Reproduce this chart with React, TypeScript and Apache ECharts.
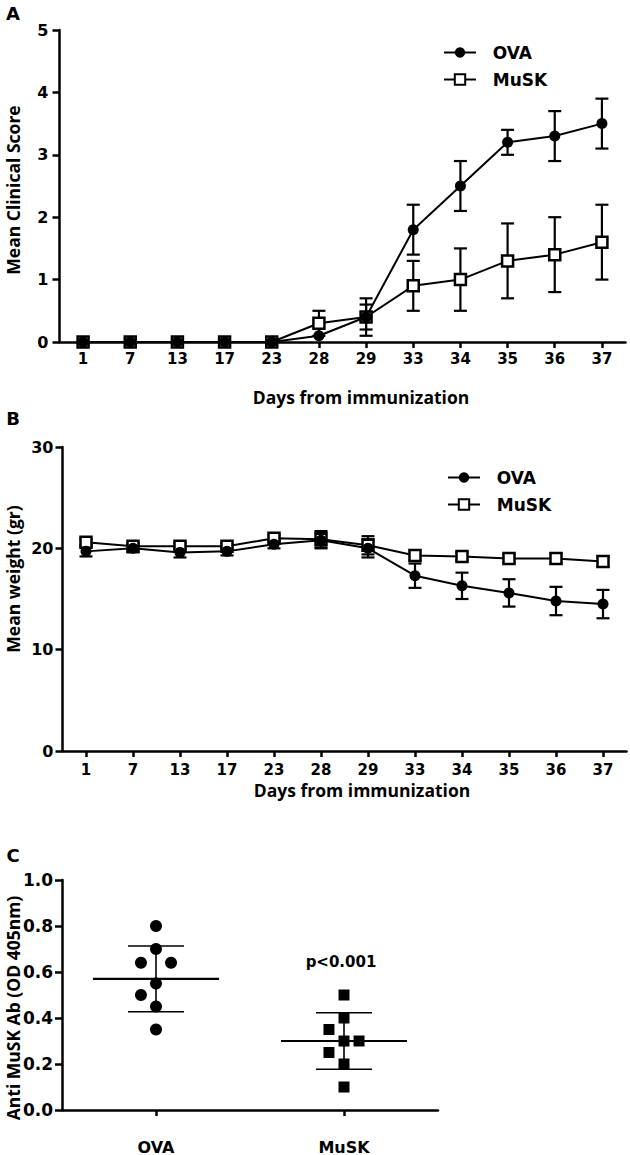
import React, { useEffect, useRef } from "react";
import * as echarts from "echarts";

// ---------- DATA ----------
const days = ["1", "7", "13", "17", "23", "28", "29", "33", "34", "35", "36", "37"];

// Panel A: mean clinical score (with error)
const ovaScore = [0, 0, 0, 0, 0, 0.1, 0.4, 1.8, 2.5, 3.2, 3.3, 3.5];
const ovaScoreErr = [0, 0, 0, 0, 0, 0, 0.2, 0.4, 0.4, 0.2, 0.4, 0.4];
const muskScore = [0, 0, 0, 0, 0, 0.3, 0.4, 0.9, 1.0, 1.3, 1.4, 1.6];
const muskScoreErr = [0, 0, 0, 0, 0, 0.2, 0.3, 0.4, 0.5, 0.6, 0.6, 0.6];

// Panel B: mean weight (gr)
const ovaWeight = [19.7, 20.0, 19.6, 19.7, 20.4, 20.8, 20.0, 17.3, 16.3, 15.6, 14.8, 14.5];
const ovaWeightErr = [0.5, 0.4, 0.5, 0.4, 0.4, 0.8, 0.9, 1.2, 1.3, 1.35, 1.4, 1.4];
const muskWeight = [20.6, 20.2, 20.2, 20.2, 21.0, 20.9, 20.3, 19.3, 19.2, 19.0, 19.0, 18.7];
const muskWeightErr = [0.3, 0.3, 0.3, 0.3, 0.3, 0.8, 0.9, 0.5, 0.4, 0.4, 0.5, 0.5];

// Panel C: anti-MuSK antibody (OD 405nm)
const groups = ["OVA", "MuSK"];
const ovaAb = [0.8, 0.7, 0.64, 0.64, 0.55, 0.5, 0.45, 0.35];
const ovaJitter = [0, 0, -1, 1, 0, -1, 0, 0];
const muskAb = [0.5, 0.4, 0.35, 0.3, 0.3, 0.25, 0.2, 0.1];
const muskJitter = [0, 0, -1, 0, 1, -1, 0, 0];
const groupMean = [0.57, 0.3];
const groupSd = [0.143, 0.123];

const yTicksA = { min: 0, max: 5, interval: 1 };
const yTicksB = { min: 0, max: 30, interval: 10 };
const yTicksC = { min: 0, max: 1, interval: 0.2 };

// ---------- STYLE ----------
const NUM_FONT = "'DejaVu Sans', Verdana, sans-serif";
const TITLE_FONT = "'Open Sans', 'Noto Sans', sans-serif";
const INK = "#000";
const JITTER_STEP = 0.08;

function errRender(params: any, api: any) {
  const x = api.value(0);
  const lo = api.value(1);
  const hi = api.value(2);
  if (hi - lo <= 0) return { type: "group", children: [] };
  const p1 = api.coord([x, hi]);
  const p2 = api.coord([x, lo]);
  const w = 6.5;
  const st = { stroke: INK, lineWidth: 2.2 };
  return {
    type: "group",
    children: [
      { type: "line", shape: { x1: p1[0], y1: p1[1], x2: p2[0], y2: p2[1] }, style: st },
      { type: "line", shape: { x1: p1[0] - w, y1: p1[1], x2: p1[0] + w, y2: p1[1] }, style: st },
      { type: "line", shape: { x1: p2[0] - w, y1: p2[1], x2: p2[0] + w, y2: p2[1] }, style: st },
    ],
  };
}

function meanSdRender(params: any, api: any) {
  const x = api.value(0);
  const m = api.value(1);
  const sd = api.value(2);
  const pm = api.coord([x, m]);
  const ph = api.coord([x, m + sd]);
  const pl = api.coord([x, m - sd]);
  const half = 63;
  const cap = 28;
  return {
    type: "group",
    children: [
      { type: "line", shape: { x1: pm[0] - half, y1: pm[1], x2: pm[0] + half, y2: pm[1] }, style: { stroke: INK, lineWidth: 2.2 } },
      { type: "line", shape: { x1: ph[0], y1: ph[1], x2: pl[0], y2: pl[1] }, style: { stroke: INK, lineWidth: 1.6 } },
      { type: "line", shape: { x1: ph[0] - cap, y1: ph[1], x2: ph[0] + cap, y2: ph[1] }, style: { stroke: INK, lineWidth: 1.6 } },
      { type: "line", shape: { x1: pl[0] - cap, y1: pl[1], x2: pl[0] + cap, y2: pl[1] }, style: { stroke: INK, lineWidth: 1.6 } },
    ],
  };
}

const errData = (vals: number[], errs: number[]) => vals.map((v, i) => [i, v - errs[i], v + errs[i]]);

function catAxis(gridIndex: number, data: string[], margin: number, fontSize: number) {
  return {
    type: "category",
    gridIndex,
    data,
    boundaryGap: true,
    axisLine: { show: true, onZero: false, lineStyle: { color: INK, width: 2.5 } },
    axisTick: { show: true, alignWithLabel: true, length: 6, lineStyle: { color: INK, width: 2.5 } },
    axisLabel: { color: INK, fontFamily: NUM_FONT, fontWeight: "bold", fontSize, margin, interval: 0 },
    splitLine: { show: false },
  };
}

function valAxis(gridIndex: number, t: any, fontSize: number, margin: number, fmt?: (v: number) => string) {
  return {
    type: "value",
    gridIndex,
    min: t.min,
    max: t.max,
    interval: t.interval,
    axisLine: { show: true, onZero: false, lineStyle: { color: INK, width: 2.5 } },
    axisTick: { show: true, length: 7, lineStyle: { color: INK, width: 2.5 } },
    axisLabel: { color: INK, fontFamily: NUM_FONT, fontWeight: "bold", fontSize, margin, formatter: fmt },
    splitLine: { show: false },
  };
}

function lineSeries(name: string, data: number[], xi: number, yi: number, filled: boolean) {
  return {
    name,
    type: "line",
    xAxisIndex: xi,
    yAxisIndex: yi,
    data,
    z: 3,
    symbol: filled ? "circle" : "rect",
    symbolSize: 11,
    showSymbol: true,
    lineStyle: { color: INK, width: 2 },
    itemStyle: filled
      ? { color: INK, borderColor: INK, borderWidth: 0 }
      : { color: "#fff", borderColor: INK, borderWidth: 2.5 },
    emphasis: { disabled: true },
  };
}

function errSeries(vals: number[], errs: number[], xi: number, yi: number) {
  return {
    type: "custom",
    xAxisIndex: xi,
    yAxisIndex: yi,
    z: 2,
    renderItem: errRender,
    encode: { x: 0, y: [1, 2] },
    data: errData(vals, errs),
    silent: true,
  };
}

function rotText(text: string, x: number, y: number) {
  return {
    type: "text",
    x,
    y,
    rotation: Math.PI / 2,
    style: { text, fill: INK, font: `bold 17.5px ${TITLE_FONT}`, align: "center", verticalAlign: "middle" },
  };
}

function plainText(text: string, x: number, y: number, font: string) {
  return {
    type: "text",
    x,
    y,
    style: { text, fill: INK, font, align: "center", verticalAlign: "middle" },
  };
}

export default function App() {
  const ref = useRef<HTMLDivElement>(null);

  useEffect(() => {
    document.body.style.margin = "0";
    if (!ref.current) return;
    const chart = echarts.init(ref.current, undefined, { renderer: "svg" });

    const legendCommon = {
      orient: "vertical",
      itemWidth: 32,
      itemHeight: 13,
      itemGap: 10,
      formatter: "  {name}",
      textStyle: { color: INK, fontFamily: NUM_FONT, fontWeight: "bold", fontSize: 17 },
      data: ["OVA", "MuSK"],
      selectedMode: false,
    };

    const option: any = {
      animation: false,
      backgroundColor: "#fff",
      grid: [
        { left: 59.5, top: 30, width: 566, height: 312 },
        { left: 62.5, top: 447, width: 564, height: 304 },
        { left: 62, top: 880, width: 376, height: 231 },
      ],
      legend: [
        { ...legendCommon, left: 438, top: 39 },
        { ...legendCommon, left: 442, top: 464 },
      ],
      xAxis: [
        catAxis(0, days, 9, 15),
        catAxis(1, days, 11, 15),
        catAxis(2, groups, 29, 16),
        { type: "value", gridIndex: 2, min: -0.5, max: 1.5, show: false },
      ],
      yAxis: [
        valAxis(0, yTicksA, 16, 11),
        valAxis(1, yTicksB, 16, 9),
        valAxis(2, yTicksC, 17, 9, (v: number) => v.toFixed(1)),
      ],
      series: [
        errSeries(ovaScore, ovaScoreErr, 0, 0),
        errSeries(muskScore, muskScoreErr, 0, 0),
        lineSeries("MuSK", muskScore, 0, 0, false),
        lineSeries("OVA", ovaScore, 0, 0, true),
        errSeries(ovaWeight, ovaWeightErr, 1, 1),
        errSeries(muskWeight, muskWeightErr, 1, 1),
        lineSeries("MuSK", muskWeight, 1, 1, false),
        lineSeries("OVA", ovaWeight, 1, 1, true),
        {
          type: "custom",
          xAxisIndex: 2,
          yAxisIndex: 2,
          z: 2,
          renderItem: meanSdRender,
          encode: { x: 0, y: 1 },
          data: groups.map((g, i) => [i, groupMean[i], groupSd[i]]),
          silent: true,
        },
        {
          name: "OVA group",
          type: "scatter",
          xAxisIndex: 3,
          yAxisIndex: 2,
          z: 3,
          symbol: "circle",
          symbolSize: 12,
          itemStyle: { color: INK, opacity: 1 },
          emphasis: { disabled: true },
          data: ovaAb.map((v, i) => [0 + ovaJitter[i] * JITTER_STEP, v]),
        },
        {
          name: "MuSK group",
          type: "scatter",
          xAxisIndex: 3,
          yAxisIndex: 2,
          z: 3,
          symbol: "rect",
          symbolSize: 11,
          itemStyle: { color: INK, opacity: 1 },
          emphasis: { disabled: true },
          data: muskAb.map((v, i) => [1 + muskJitter[i] * JITTER_STEP, v]),
        },
      ],
      graphic: [
        plainText("A", 13, 13, `bold 18px ${NUM_FONT}`),
        plainText("B", 13, 418, `bold 18px ${NUM_FONT}`),
        plainText("C", 13, 855, `bold 18px ${NUM_FONT}`),
        rotText("Mean Clinical Score", 13, 190),
        rotText("Mean weight (gr)", 13, 579),
        rotText("Anti MuSK Ab (OD 405nm)", 13, 1008),
        plainText("Days from immunization", 361, 397, `bold 17.5px ${TITLE_FONT}`),
        plainText("Days from immunization", 362, 790, `bold 17.5px ${TITLE_FONT}`),
        plainText("p<0.001", 341, 962, `bold 15px ${NUM_FONT}`),
      ],
    };

    chart.setOption(option);
    return () => chart.dispose();
  }, []);

  return <div ref={ref} style={{ position: "absolute", left: 0, top: 0, width: 630, height: 1155 }} />;
}
